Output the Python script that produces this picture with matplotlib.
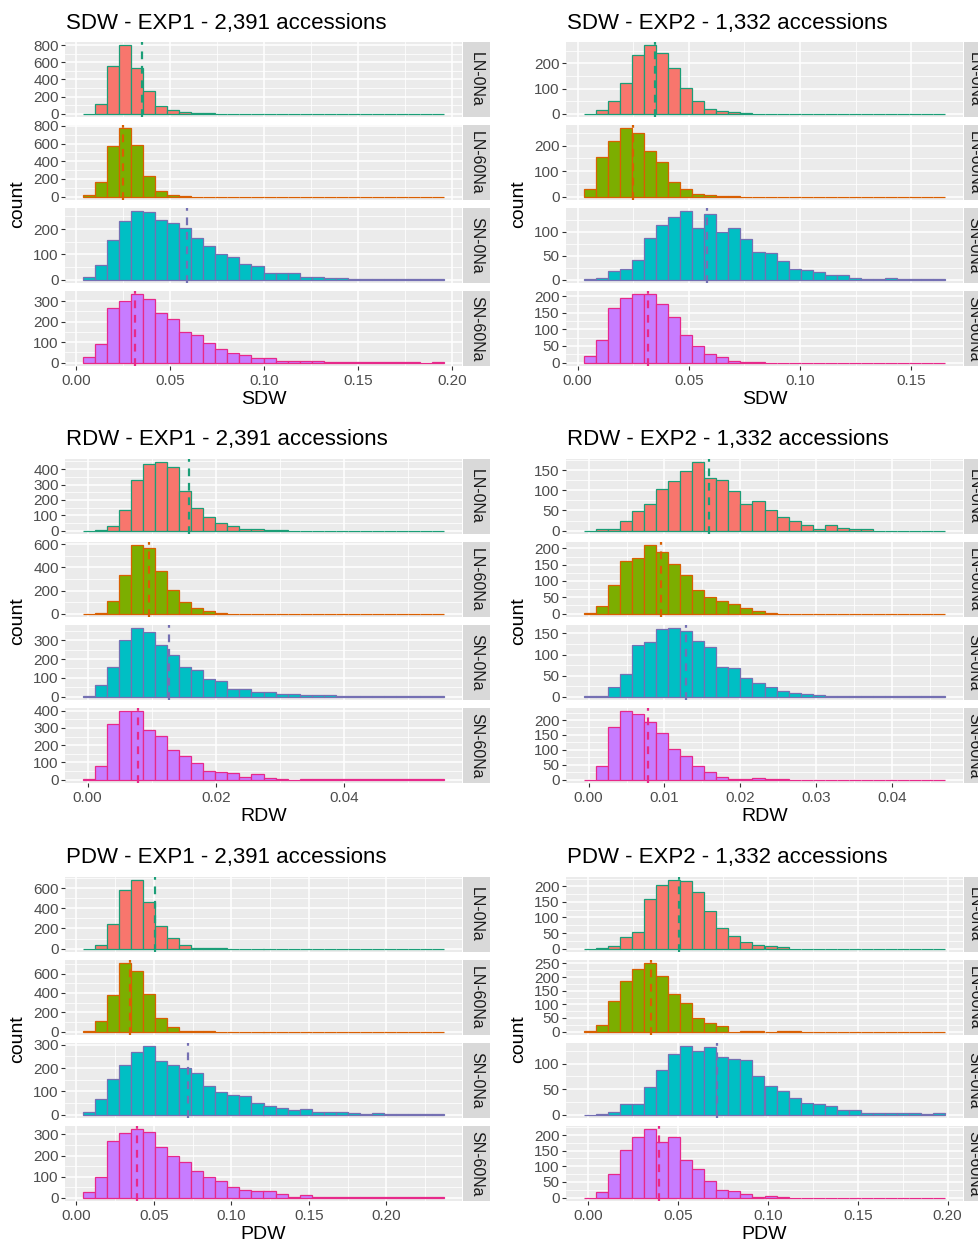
import numpy as np
import matplotlib
matplotlib.use("Agg")
import matplotlib.pyplot as plt
from matplotlib.ticker import MultipleLocator, FormatStrFormatter

plt.rcParams['font.family'] = ['Liberation Sans', 'DejaVu Sans']

# ---------------- data ----------------
metrics = ["SDW", "RDW", "PDW"]
experiments = ["EXP1", "EXP2"]
accessions = ["2,391", "1,332"]
treatments = ["LN-0Na", "LN-60Na", "SN-0Na", "SN-60Na"]

# bin-edge ranges (30 bins each)
sdw_exp1_range = (0.0037, 0.1957)
sdw_exp2_range = (0.0029, 0.1652)
rdw_exp1_range = (-0.0007, 0.0556)
rdw_exp2_range = (-0.0006, 0.0470)
pdw_exp1_range = (0.0043, 0.2371)
pdw_exp2_range = (-0.0024, 0.1985)

def pad(v):
    return v + [0] * (30 - len(v))

sdw_exp1_counts = [
    pad([0, 108, 560, 800, 540, 260, 92, 40, 15, 4, 2, 1]),
    pad([20, 162, 568, 772, 580, 232, 58, 19, 2, 1]),
    [12, 57, 155, 231, 270, 266, 236, 226, 204, 165, 135, 100, 88, 61, 53,
     26, 26, 27, 12, 12, 5, 5, 2, 2, 1, 1, 1, 1, 1, 1],
    [28, 92, 267, 303, 333, 312, 242, 212, 147, 137, 97, 67, 47, 35, 22,
     22, 8, 8, 8, 8, 2, 1, 1, 1, 1, 1, 1, 1, 0, 1],
]
sdw_exp2_counts = [
    pad([0, 16, 52, 122, 235, 272, 241, 180, 102, 52, 20, 11, 5, 1]),
    pad([29, 156, 216, 267, 249, 180, 136, 56, 29, 12, 5, 1, 1]),
    [1, 4, 18, 23, 40, 87, 113, 131, 142, 107, 137, 99, 108, 84, 57,
     55, 38, 23, 19, 15, 10, 10, 4, 1, 1, 4, 1, 1, 1, 1],
    pad([19, 68, 163, 193, 205, 205, 177, 137, 83, 51, 25, 18, 5, 1, 1]),
]
rdw_exp1_counts = [
    pad([0, 1, 27, 133, 327, 433, 444, 416, 260, 144, 89, 49, 33, 9, 9, 2, 1]),
    pad([0, 9, 112, 334, 591, 570, 369, 207, 97, 47, 24, 1]),
    [2, 64, 158, 304, 364, 344, 276, 222, 158, 140, 95, 82, 40, 40, 27,
     27, 16, 16, 9, 9, 9, 3, 2, 2, 2, 1, 1, 1, 1, 1],
    [6, 80, 320, 396, 396, 286, 256, 172, 136, 96, 50, 42, 36, 16, 30,
     10, 6, 0, 6, 2, 1, 1, 1, 1, 1, 1, 1, 1, 1, 1],
]
rdw_exp2_counts = [
    pad([0, 3, 3, 23, 48, 65, 104, 122, 148, 169, 130, 126, 99, 65, 73,
         51, 34, 23, 15, 4, 13, 7, 3, 3]),
    pad([3, 24, 87, 160, 171, 209, 190, 153, 118, 73, 52, 40, 29, 17, 8, 3]),
    [1, 1, 22, 53, 123, 129, 160, 162, 157, 131, 118, 71, 68, 45, 32,
     22, 13, 8, 7, 4, 2, 1, 1, 1, 1, 1, 1, 1, 1, 1],
    pad([0, 47, 177, 229, 221, 194, 156, 104, 79, 47, 27, 9, 3, 1, 5, 1, 1]),
]
pdw_exp1_counts = [
    pad([0, 40, 240, 583, 677, 467, 223, 110, 40, 10, 10, 1]),
    pad([3, 105, 380, 705, 628, 391, 140, 52, 7, 7, 1]),
    [13, 65, 151, 211, 271, 293, 232, 214, 201, 179, 125, 96, 86, 82, 50,
     39, 29, 19, 22, 10, 10, 10, 6, 1, 6, 2, 2, 1, 1, 1],
    [27, 96, 271, 306, 324, 314, 239, 199, 167, 128, 96, 80, 48, 37, 32,
     32, 16, 5, 11, 5, 5, 5, 5, 1, 1, 1, 1, 1, 1, 1],
]
pdw_exp2_counts = [
    pad([0, 1, 9, 36, 54, 159, 205, 219, 216, 182, 122, 65, 41, 22, 11, 8, 4]),
    pad([3, 24, 114, 184, 228, 250, 203, 139, 105, 50, 30, 19, 0, 4, 4, 0, 1, 4]),
    [0, 1, 5, 20, 20, 55, 88, 119, 134, 124, 132, 113, 110, 107, 76,
     57, 47, 33, 23, 21, 16, 9, 9, 3, 3, 3, 3, 3, 1, 4],
    pad([0, 18, 74, 152, 194, 218, 178, 194, 120, 90, 53, 24, 21, 11, 2, 5, 1]),
]

sdw_exp1_means = [0.0352, 0.0251, 0.0588, 0.0313]
sdw_exp2_means = [0.0346, 0.0251, 0.0583, 0.0315]
rdw_exp1_means = [0.01585, 0.0096, 0.01273, 0.00782]
rdw_exp2_means = [0.01588, 0.00957, 0.01279, 0.0078]
pdw_exp1_means = [0.0506, 0.0345, 0.0718, 0.0394]
pdw_exp2_means = [0.0507, 0.0349, 0.0718, 0.0395]

# x tick steps and y tick steps per facet
x_steps = {("SDW", "EXP1"): 0.05, ("SDW", "EXP2"): 0.05,
           ("RDW", "EXP1"): 0.02, ("RDW", "EXP2"): 0.01,
           ("PDW", "EXP1"): 0.05, ("PDW", "EXP2"): 0.05}
y_steps = {("SDW", "EXP1"): [200, 200, 100, 100], ("SDW", "EXP2"): [100, 100, 50, 50],
           ("RDW", "EXP1"): [100, 200, 100, 100], ("RDW", "EXP2"): [50, 50, 50, 50],
           ("PDW", "EXP1"): [200, 200, 100, 100], ("PDW", "EXP2"): [50, 50, 50, 50]}

data = {
    ("SDW", "EXP1"): (sdw_exp1_range, sdw_exp1_counts, sdw_exp1_means),
    ("SDW", "EXP2"): (sdw_exp2_range, sdw_exp2_counts, sdw_exp2_means),
    ("RDW", "EXP1"): (rdw_exp1_range, rdw_exp1_counts, rdw_exp1_means),
    ("RDW", "EXP2"): (rdw_exp2_range, rdw_exp2_counts, rdw_exp2_means),
    ("PDW", "EXP1"): (pdw_exp1_range, pdw_exp1_counts, pdw_exp1_means),
    ("PDW", "EXP2"): (pdw_exp2_range, pdw_exp2_counts, pdw_exp2_means),
}

fill_colors = ["#F8766D", "#7CAE00", "#00BFC4", "#C77CFF"]
line_colors = ["#1B9E77", "#D95F02", "#7570B3", "#E7298A"]

# ---------------- layout ----------------
W, H = 979, 1242
fig = plt.figure(figsize=(W / 100, H / 100), dpi=100)

def rect(x0, y0, x1, y1):
    return [x0 / W, 1 - y1 / H, (x1 - x0) / W, (y1 - y0) / H]

row_tops = [42, 459, 877]
col_lefts = [65, 566]
pw, ph, gap = 397, 75, 8
strip_w = 27

for r, m in enumerate(metrics):
    for c, e in enumerate(experiments):
        (lo, hi), counts, means = data[(m, e)]
        edges = np.linspace(lo, hi, 31)
        bw = edges[1] - edges[0]
        span = hi - lo
        x0 = col_lefts[c]
        top = row_tops[r]
        fig.text((x0 + 1) / W, 1 - (top - 19) / H, f"{m} - {e} - {accessions[c]} accessions",
                 fontsize=16, ha="left", va="center", color="black")
        for k, t in enumerate(treatments):
            y0 = top + k * (ph + gap)
            ax = fig.add_axes(rect(x0, y0, x0 + pw, y0 + ph))
            ax.set_facecolor("#EBEBEB")
            for s in ax.spines.values():
                s.set_visible(False)
            ax.set_axisbelow(True)
            cts = np.array(counts[k])
            ax.bar(edges[:-1], cts, width=bw, align="edge", color=fill_colors[k],
                   edgecolor=line_colors[k], linewidth=0.9, zorder=2)
            ax.axvline(means[k], color=line_colors[k], linestyle=(0, (3.5, 3)),
                       linewidth=1.6, zorder=3)
            ymax = cts.max()
            ax.set_xlim(lo - 0.05 * span, hi + 0.05 * span)
            ax.set_ylim(-0.05 * ymax, 1.05 * ymax)
            xs = x_steps[(m, e)]
            ys = y_steps[(m, e)][k]
            ax.xaxis.set_major_locator(MultipleLocator(xs))
            ax.xaxis.set_minor_locator(MultipleLocator(xs / 2))
            ax.yaxis.set_major_locator(MultipleLocator(ys))
            ax.yaxis.set_minor_locator(MultipleLocator(ys / 2))
            ax.grid(which="major", color="white", linewidth=1.1)
            ax.grid(which="minor", color="white", linewidth=0.55)
            ax.tick_params(axis="both", which="major", length=3, width=0.8,
                           color="#333333", labelcolor="#4D4D4D", labelsize=11, pad=1.5)
            ax.tick_params(axis="both", which="minor", length=0)
            ax.yaxis.set_major_formatter(FormatStrFormatter("%d"))
            if k < 3:
                ax.tick_params(axis="x", which="both", bottom=False, labelbottom=False)
            else:
                ax.tick_params(axis="x", which="major", pad=3)
                ax.xaxis.set_major_formatter(FormatStrFormatter("%.2f"))
                ax.set_xlabel(m, fontsize=14, color="black", labelpad=2)
            # strip
            sx0 = x0 + pw + 1
            sax = fig.add_axes(rect(sx0, y0, sx0 + strip_w, y0 + ph))
            sax.set_facecolor("#D9D9D9")
            sax.set_xticks([]); sax.set_yticks([])
            for s in sax.spines.values():
                s.set_visible(False)
            # text centred in the strip; in the right column the strip runs past the
            # figure edge, as in the reference
            tx = min(sx0 + strip_w / 2, W - 5)
            fig.text(tx / W, 1 - (y0 + ph / 2) / H, t, rotation=-90, ha="center", va="center",
                     fontsize=11.5, color="#1A1A1A")
        # count label
        mid = top + (4 * ph + 3 * gap) / 2
        fig.text((x0 - 47) / W, 1 - mid / H, "count", rotation=90, fontsize=14,
                 ha="center", va="center", color="black")

fig.savefig("out.png", dpi=100, facecolor="white")
